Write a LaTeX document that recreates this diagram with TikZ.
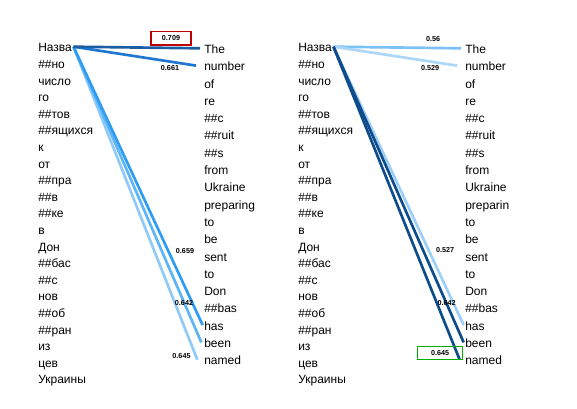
\documentclass[tikz,border=0pt]{standalone}
\usepackage{fontspec}
\setmainfont{Liberation Sans}
\begin{document}
\begin{tikzpicture}[x=0.75pt,y=-0.75pt,
  word/.style={anchor=west,inner sep=0pt,font=\fontsize{9}{10}\selectfont,text height=1.45ex,text depth=0pt},
  lab/.style={inner sep=0pt,font=\fontsize{5.4}{6}\selectfont\bfseries},
  att/.style={line width=2pt}]
\useasboundingbox[fill=white] (0,0) rectangle (577,408);
\definecolor{c1}{HTML}{1C5EA3}
\definecolor{c2}{HTML}{1E78D2}
\definecolor{c3}{HTML}{2E9CF2}
\definecolor{c4}{HTML}{5DB5F6}
\definecolor{c5}{HTML}{8FCAF8}
\definecolor{d1}{HTML}{7CC1F6}
\definecolor{d2}{HTML}{ADD7F9}
\definecolor{d3}{HTML}{9DD0F8}
\definecolor{d4}{HTML}{0F4C8C}
% left panel
\foreach \w [count=\i] in {Назва,\#\#но,число,го,\#\#тов,\#\#ящихся,к,от,\#\#пра,\#\#в,\#\#ке,в,Дон,\#\#бас,\#\#с,нов,\#\#об,\#\#ран,из,цев,Украины}
  { \node[word] (L\i) at (38,{46.7+16.6*(\i-1)}) {\w};
    \node[word] (P\i) at (298,{46.7+16.6*(\i-1)}) {\w}; }
\foreach \w [count=\i] in {The,number,of,re,\#\#c,\#\#ruit,\#\#s,from,Ukraine,preparing,to,be,sent,to,Don,\#\#bas,has,been,named}
  { \node[word] (R\i) at (204,{48.3+17.3*(\i-1)}) {\w}; }
\foreach \w [count=\i] in {The,number,of,re,\#\#c,\#\#ruit,\#\#s,from,Ukraine,preparin,to,be,sent,to,Don,\#\#bas,has,been,named}
  { \node[word] (Q\i) at (465,{48.3+17.3*(\i-1)}) {\w}; }
% left panel connectors
\coordinate (sL) at ([xshift=1]L1.east);
\draw[att,c5] (sL) -- ([xshift=-5]R19.west);
\draw[att,c4] (sL) -- ([xshift=-2]R18.west);
\draw[att,c3] (sL) -- ([xshift=-1]R17.west);
\draw[att,c2] (sL) -- ([xshift=-6]R2.west);
\draw[att,c1] (sL) -- ([xshift=-3]R1.west);
\node[lab] (a1) at (171,38.3) {0.709};
\node[draw=red!75!black,line width=1.1pt,minimum width=30pt,minimum height=10pt] (b1) at (171,38.3) {};
\node[lab] (a2) at (170,68) {0.661};
\node[lab] (a3) at (185,251.5) {0.659};
\node[lab] (a4) at (184,303) {0.642};
\node[lab] (a5) at (181.5,356) {0.645};
% right panel connectors
\coordinate (sP) at ([xshift=1]P1.east);
\draw[att,d1] (sP) -- ([xshift=-3]Q1.west);
\draw[att,d2] (sP) -- ([xshift=-6]Q2.west);
\draw[att,d3] (sP) -- ([xshift=-1]Q17.west);
\draw[att,d4] (sP) -- ([xshift=-1]Q18.west);
\draw[att,d4] (sP) -- ([xshift=-4]Q19.west);
\node[lab] (e1) at (433,39) {0.56};
\node[lab] (e2) at (430,68.3) {0.529};
\node[lab] (e3) at (445,250) {0.527};
\node[lab] (e4) at (446.5,302.7) {0.642};
\node[lab] (e5) at (440,353) {0.645};
\node[draw=green!70!black,line width=1.1pt,minimum width=34pt,minimum height=9.5pt] (f5) at (440,353) {};
\end{tikzpicture}
\end{document}
